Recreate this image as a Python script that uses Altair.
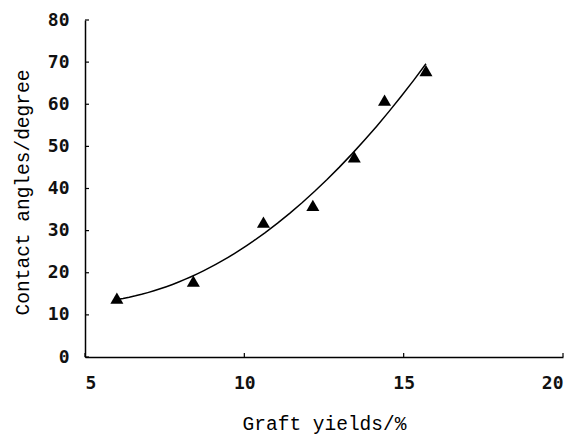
import altair as alt
import pandas as pd

# Measured contact angle against graft yield
graft_yield = [6.0, 8.4, 10.6, 12.15, 13.45, 14.4, 15.7]
contact_angle = [14.0, 18.0, 32.0, 36.0, 47.5, 61.0, 68.0]

x_ticks = [5, 10, 15, 20]
y_ticks = [0, 10, 20, 30, 40, 50, 60, 70, 80]

W, H = 478, 337

pts = pd.DataFrame({"yield": graft_yield, "angle": contact_angle})
xt = pd.DataFrame({"v": x_ticks})
yt = pd.DataFrame({"v": y_ticks})

label_font = "DejaVu Sans Mono"
title_font = "Liberation Mono"

x_scale = alt.Scale(domain=[5, 20], nice=False, zero=False)
y_scale = alt.Scale(domain=[0, 80], nice=False)

x_axis = alt.Axis(
    values=x_ticks, ticks=False, grid=False, domainColor="black", domainWidth=1.5,
    labelFont=label_font, labelFontSize=18, labelFontWeight="bold",
    labelColor="#111111", labelPadding=17,
    title="Graft yields/%", titleFont=title_font, titleFontSize=19.5,
    titleFontWeight="normal", titleColor="black", titleY=66, titleBaseline="middle",
)
y_axis = alt.Axis(
    values=y_ticks, ticks=False, grid=False, domainColor="black", domainWidth=1.5,
    labelFont=label_font, labelFontSize=18, labelFontWeight="bold",
    labelColor="#111111", labelPadding=16,
    title="Contact angles/degree", titleFont=title_font, titleFontSize=19.5,
    titleFontWeight="normal", titleColor="black", titleX=-63, titleY=172,
    titleAngle=270, titleAlign="center", titleBaseline="middle",
)

points = alt.Chart(pts).mark_point(
    shape="triangle-up", filled=True, color="black", size=170, opacity=1
).encode(
    x=alt.X("yield:Q", scale=x_scale, axis=x_axis),
    y=alt.Y("angle:Q", scale=y_scale, axis=y_axis),
)

# Second-order polynomial fit through the measurements
fit = alt.Chart(pts).transform_regression(
    "yield", "angle", method="poly", order=2, extent=[6.0, 15.7]
).mark_line(color="black", strokeWidth=1.5).encode(
    x=alt.X("yield:Q", scale=x_scale),
    y=alt.Y("angle:Q", scale=y_scale),
)

# Short inward-pointing ticks on both axes
x_tick_marks = alt.Chart(xt).mark_rule(color="black", strokeWidth=1.2).encode(
    x=alt.X("v:Q", scale=x_scale), y=alt.value(H), y2=alt.value(H - 4)
)
y_tick_marks = alt.Chart(yt).mark_rule(color="black", strokeWidth=1.2).encode(
    y=alt.Y("v:Q", scale=y_scale), x=alt.value(0), x2=alt.value(4)
)

chart = alt.layer(fit, points, x_tick_marks, y_tick_marks).properties(
    width=W, height=H,
    autosize=alt.AutoSizeParams(type="none"),
    padding={"left": 85, "top": 20, "right": 13, "bottom": 78},
    background="white",
).configure_view(stroke=None)

chart.save("out.html", embed_options={"renderer": "svg", "actions": False})
